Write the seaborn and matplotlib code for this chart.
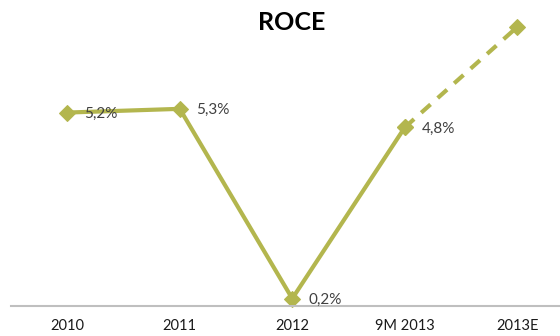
import matplotlib
matplotlib.use("Agg")
import matplotlib.pyplot as plt
import seaborn as sns
import pandas as pd

categories = ["2010", "2011", "2012", "9M 2013", "2013E"]
roce = [5.2, 5.3, 0.2, 4.8, 7.5]
labels = ["5,2%", "5,3%", "0,2%", "4,8%", None]

sns.set_theme(style="white")
plt.rcParams["font.family"] = ["Lato", "DejaVu Sans"]

color = "#B3B64E"
df = pd.DataFrame({"x": range(len(categories)), "cat": categories, "v": roce})
actual = df.iloc[:4]
estimate = df.iloc[3:]

fig = plt.figure(figsize=(5.6, 3.36), dpi=100)
ax = fig.add_axes([11 / 560, 30 / 336, 562.5 / 560, 276 / 336])

sns.lineplot(data=actual, x="x", y="v", ax=ax, color=color, linewidth=3,
             marker="D", markersize=8.5, markeredgecolor=color, markerfacecolor=color)
sns.lineplot(data=estimate, x="x", y="v", ax=ax, color=color, linewidth=3,
             linestyle=(0, (3, 2.3)), marker="D", markersize=8.5,
             markeredgecolor=color, markerfacecolor=color)

for xi, yi, lab in zip(df["x"], df["v"], labels):
    if lab:
        ax.annotate(lab, (xi, yi), xytext=(12, -1), textcoords="offset points",
                    va="center", ha="left", fontsize=11, color="#404040")

ax.set_xlim(-0.5, 4.5)
ax.set_ylim(0, 276 / 37.2)
ax.set_xticks(range(len(categories)))
ax.set_xticklabels(categories, fontsize=10.5, color="#1a1a1a")
ax.set_yticks([])
ax.set_xlabel("")
ax.set_ylabel("")
for side in ["top", "right", "left"]:
    ax.spines[side].set_visible(False)
ax.spines["bottom"].set_color("#BFBFBF")
ax.spines["bottom"].set_linewidth(1.5)
ax.tick_params(axis="x", length=0, pad=9)
for line in ax.lines:
    line.set_clip_on(False)

fig.text(292 / 560, 1 - 23 / 336, "ROCE", ha="center", va="center",
         fontsize=18, fontweight="bold", color="black")

fig.savefig("out.png", dpi=100)
